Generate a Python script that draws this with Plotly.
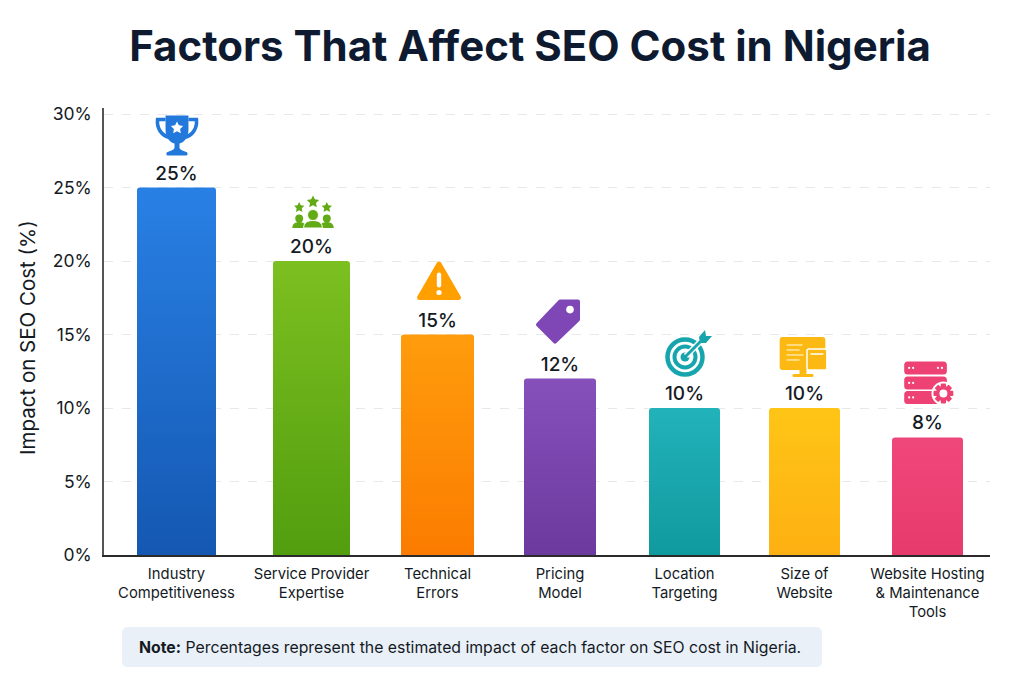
import base64
import math
import plotly.graph_objects as go

# Chart data
categories = [
    "Industry<br>Competitiveness",
    "Service Provider<br>Expertise",
    "Technical<br>Errors",
    "Pricing<br>Model",
    "Location<br>Targeting",
    "Size of<br>Website",
    "Website Hosting<br>&amp; Maintenance<br>Tools",
]
impact = [25, 20, 15, 12, 10, 10, 8]
y_ticks = [0, 5, 10, 15, 20, 25, 30]

# Bar layout, in axis units
slots = [0, 1.08, 2.088, 3.068, 4.064, 5.024, 6.008]
widths = [0.632, 0.616, 0.584, 0.576, 0.568, 0.568, 0.568]
top_colors = ["#2980e4", "#7cbf20", "#ff9c0c", "#8650bb", "#22b2ba", "#ffc516", "#f0477a"]
bottom_colors = ["#1458b2", "#529e0f", "#fb7c00", "#6c3a9e", "#109a9e", "#fdb012", "#e73a6c"]

# Canvas geometry
W, H = 1024, 683
L, R, T, B = 104, 990, 108, 555
PX_X = 125.0
PX_Y = 14.7
Y_MAX = (B - T) / PX_Y
X_MIN = (L - 176.5) / PX_X
X_MAX = (R - 176.5) / PX_X


def star(cx, cy, r, fill):
    pts = []
    for i in range(10):
        rad = r if i % 2 == 0 else r * 0.5
        a = -math.pi / 2 + i * math.pi / 5
        pts.append(f"{cx + rad * math.cos(a):.2f},{cy + rad * math.sin(a):.2f}")
    return f'<polygon points="{" ".join(pts)}" fill="{fill}"/>'


def gear(cx, cy, r, fill):
    teeth = "".join(
        f'<rect x="{cx - 2.6}" y="{cy - r}" width="5.2" height="5" rx="1" fill="{fill}" '
        f'transform="rotate({i * 45} {cx} {cy})"/>'
        for i in range(8)
    )
    return (
        f'<circle cx="{cx}" cy="{cy}" r="{r + 2}" fill="#fff"/>{teeth}'
        f'<circle cx="{cx}" cy="{cy}" r="{r - 2.5}" fill="{fill}"/>'
        f'<circle cx="{cx}" cy="{cy}" r="{r - 6}" fill="#fff"/>'
    )


TROPHY = (
    '<path d="M10 0H33V14C33 23 28 27 24 28V32C24 34 27 35 31 36.5C32.5 37 32.5 40 31 40H12'
    'C10.500 40 10.500 37 12 36.5C16 35 19 34 19 32V28C15 27 10 23 10 14Z" fill="#2378dc"/>'
    '<path d="M10 4H2C1 13 6 20 14 22M33 4H41C42 13 37 20 29 22" fill="none" stroke="#2378dc" stroke-width="3.600"/>'
    + star(21.5, 12.5, 6.5, "#fff")
)
TEAM = (
    star(7, 11.5, 5.5, "#62ab16") + star(21, 6, 6.5, "#62ab16") + star(35, 11.5, 5.5, "#62ab16")
    + '<circle cx="7" cy="22.500" r="4" fill="#62ab16"/><circle cx="35" cy="22.500" r="4" fill="#62ab16"/>'
    + '<path d="M0 32C0 28 3 26 7 26C11 26 14 28 14 32Z" fill="#62ab16"/>'
    + '<path d="M28 32C28 28 31 26 35 26C39 26 42 28 42 32Z" fill="#62ab16"/>'
    + '<circle cx="21" cy="19" r="5.500" fill="#62ab16" stroke="#fff" stroke-width="0.800"/>'
    + '<path d="M11.500 32C11.500 27 15 24.500 21 24.500C27 24.500 30.500 27 30.500 32Z" fill="#62ab16" stroke="#fff" stroke-width="1"/>'
)
WARNING = (
    '<polygon points="22.500,3.500 42,37 3,37" fill="#ffa000" stroke="#ffa000" stroke-width="5" stroke-linejoin="round"/>'
    '<rect x="20.300" y="12" width="4.400" height="15" rx="2.200" fill="#fff"/>'
    '<circle cx="22.500" cy="32" r="2.600" fill="#fff"/>'
)
TAG = (
    '<polygon points="25,3 43,3 43,21 20,43 3,26" fill="#7f47b5" stroke="#7f47b5" stroke-width="4" stroke-linejoin="round"/>'
    '<circle cx="35" cy="11" r="3.800" fill="#fff"/>'
)
TARGET = (
    '<circle cx="20" cy="27" r="17.500" fill="none" stroke="#17a5ad" stroke-width="4.500"/>'
    '<circle cx="20" cy="27" r="10.500" fill="none" stroke="#17a5ad" stroke-width="4"/>'
    '<circle cx="20" cy="27" r="4.500" fill="#17a5ad"/>'
    '<line x1="21" y1="26" x2="38" y2="9" stroke="#fff" stroke-width="6"/>'
    '<line x1="20" y1="27" x2="38" y2="9" stroke="#17a5ad" stroke-width="3"/>'
    '<polygon points="34,7 40,0 41,6 47,6 41,13 35,13" fill="#17a5ad"/>'
)
MONITOR = (
    '<rect x="0" y="1" width="46" height="33" rx="3" fill="#fdb913"/>'
    '<path d="M20 34H27V38H33C34.500 38 34.500 41 33 41H14C12.500 41 12.500 38 14 38H20Z" fill="#fdb913"/>'
    '<g stroke="#ffe7a0" stroke-width="1.500"><line x1="7" y1="9" x2="23" y2="9"/>'
    '<line x1="7" y1="14" x2="20" y2="14"/><line x1="7" y1="19" x2="24" y2="19"/>'
    '<line x1="7" y1="24" x2="20" y2="24"/></g>'
    '<rect x="27.500" y="13" width="20" height="21" rx="2" fill="#fdb913" stroke="#fff" stroke-width="1.500"/>'
    '<line x1="31" y1="18" x2="44" y2="18" stroke="#fff" stroke-width="1.300"/>'
)
SERVER = (
    '<rect x="0" y="0" width="43" height="13" rx="3.500" fill="#ee4274"/>'
    '<rect x="0" y="15" width="43" height="13" rx="3.500" fill="#ee4274"/>'
    '<rect x="0" y="29.500" width="43" height="13" rx="3.500" fill="#ee4274"/>'
    + "".join(
        f'<circle cx="{x}" cy="{y}" r="1.100" fill="#fff"/>'
        for x, y in [(5, 6.5), (9, 6.5), (34, 6.5), (38, 6.5), (5, 21.5), (9, 21.5), (5, 36), (9, 36)]
    )
    + gear(39.5, 32, 10, "#ee4274")
)
icons = [
    (TROPHY, 43, 40, 0.5, 31),
    (TEAM, 42, 32, 1.5, 32),
    (WARNING, 45, 40, 1.5, 33),
    (TAG, 46, 46, -2, 33),
    (TARGET, 47, 47, 4, 30),
    (MONITOR, 48, 41, -1, 30),
    (SERVER, 52, 43, 2.5, 32),
]


def svg_uri(body, w, h):
    svg = (
        f'<svg xmlns="http://www.w3.org/2000/svg" width="{w * 3}" height="{h * 3}" '
        f'viewBox="-1 -1 {w + 2} {h + 2}">{body}</svg>'
    )
    return "data:image/svg+xml;base64," + base64.b64encode(svg.encode()).decode()


TEXT = "#141a24"
FONT = "Inter, sans-serif"

fig = go.Figure()
fig.add_trace(
    go.Bar(
        x=slots,
        y=impact,
        width=widths,
        marker=dict(color=top_colors, line=dict(width=0)),
        text=[f"{v}%" for v in impact],
        textposition="outside",
        textfont=dict(family=FONT, size=19, color=TEXT, weight=500),
        cliponaxis=False,
        hoverinfo="skip",
        showlegend=False,
    )
)

# Each bar darkens towards the axis
for cx, w, v, bottom in zip(slots, widths, impact, bottom_colors):
    r, g, b = (int(bottom[i : i + 2], 16) for i in (1, 3, 5))
    fig.add_trace(
        go.Scatter(
            x=[cx - w / 2, cx + w / 2, cx + w / 2, cx - w / 2, cx - w / 2],
            y=[0, 0, v - 0.1, v - 0.1, 0],
            mode="lines",
            line=dict(width=0),
            fill="toself",
            fillgradient=dict(
                type="vertical",
                colorscale=[[0, f"rgba({r},{g},{b},1)"], [1, f"rgba({r},{g},{b},0)"]],
            ),
            hoverinfo="skip",
            showlegend=False,
        )
    )

images = []
for (body, w, h, dx, gap), cx, v in zip(icons, slots, impact):
    images.append(
        dict(
            source=svg_uri(body, w, h),
            xref="x",
            yref="y",
            x=cx + dx / PX_X,
            y=v + gap / PX_Y,
            sizex=(w + 2) / PX_X,
            sizey=(h + 2) / PX_Y,
            xanchor="center",
            yanchor="bottom",
            sizing="stretch",
            layer="above",
        )
    )


def paper_x(px):
    return (px - L) / (R - L)


def paper_y(py):
    return (B - py) / (B - T)


def note_panel(x0, y0, x1, y1, r):
    pts = [
        ("M", x0 + r, y0), ("L", x1 - r, y0), ("Q", x1, y0, x1, y0 + r),
        ("L", x1, y1 - r), ("Q", x1, y1, x1 - r, y1), ("L", x0 + r, y1),
        ("Q", x0, y1, x0, y1 - r), ("L", x0, y0 + r), ("Q", x0, y0, x0 + r, y0),
    ]
    parts = []
    for p in pts:
        coords = p[1:]
        mapped = [
            f"{paper_x(coords[i]):.5f},{paper_y(coords[i + 1]):.5f}" for i in range(0, len(coords), 2)
        ]
        parts.append(p[0] + " ".join(mapped))
    return " ".join(parts) + " Z"


fig.update_layout(
    width=W,
    height=H,
    autosize=False,
    paper_bgcolor="#ffffff",
    plot_bgcolor="#ffffff",
    margin=dict(l=L, r=W - R, t=T, b=H - B, pad=0),
    barcornerradius=3,
    font=dict(family=FONT, color=TEXT),
    title=dict(
        text="<b>Factors That Affect SEO Cost in Nigeria</b>",
        x=530 / W,
        xanchor="center",
        y=1 - 46 / H,
        yanchor="middle",
        font=dict(family=FONT, size=42, color="#0e1a30"),
    ),
    xaxis=dict(
        range=[X_MIN, X_MAX],
        tickmode="array",
        tickvals=slots,
        ticktext=categories,
        tickfont=dict(family=FONT, size=14.8, color=TEXT),
        ticklabelstandoff=4,
        ticks="",
        ticklen=0,
        showgrid=False,
        zeroline=False,
        showline=True,
        linecolor="#2a2a2a",
        linewidth=1.5,
        fixedrange=True,
    ),
    yaxis=dict(
        range=[0, Y_MAX],
        tickmode="array",
        tickvals=y_ticks,
        ticktext=[f"{t}%" for t in y_ticks],
        tickfont=dict(family=FONT, size=17.5, color=TEXT),
        ticklabelstandoff=7,
        ticks="",
        showgrid=True,
        gridcolor="#e8e8e8",
        griddash="dash",
        gridwidth=1,
        zeroline=False,
        showline=True,
        linecolor="#555555",
        linewidth=1.5,
        fixedrange=True,
    ),
    images=images,
    shapes=[
        dict(
            type="path",
            xref="paper",
            yref="paper",
            path=note_panel(122, 627, 822, 667, 6),
            fillcolor="#eaf0f8",
            line=dict(width=0),
            layer="below",
        )
    ],
    annotations=[
        dict(
            text="Impact on SEO Cost (%)",
            xref="paper",
            yref="paper",
            x=paper_x(27),
            y=paper_y(338),
            xanchor="center",
            yanchor="middle",
            textangle=-90,
            showarrow=False,
            font=dict(family=FONT, size=20.5, color=TEXT),
        ),
        dict(
            text="<b>Note:</b> Percentages represent the estimated impact of each factor on SEO cost in Nigeria.",
            xref="paper",
            yref="paper",
            x=paper_x(136.5),
            y=paper_y(647),
            xanchor="left",
            yanchor="middle",
            showarrow=False,
            font=dict(family=FONT, size=15.8, color=TEXT),
        ),
    ],
)

fig.write_html("out.html", config=dict(displayModeBar=False))
